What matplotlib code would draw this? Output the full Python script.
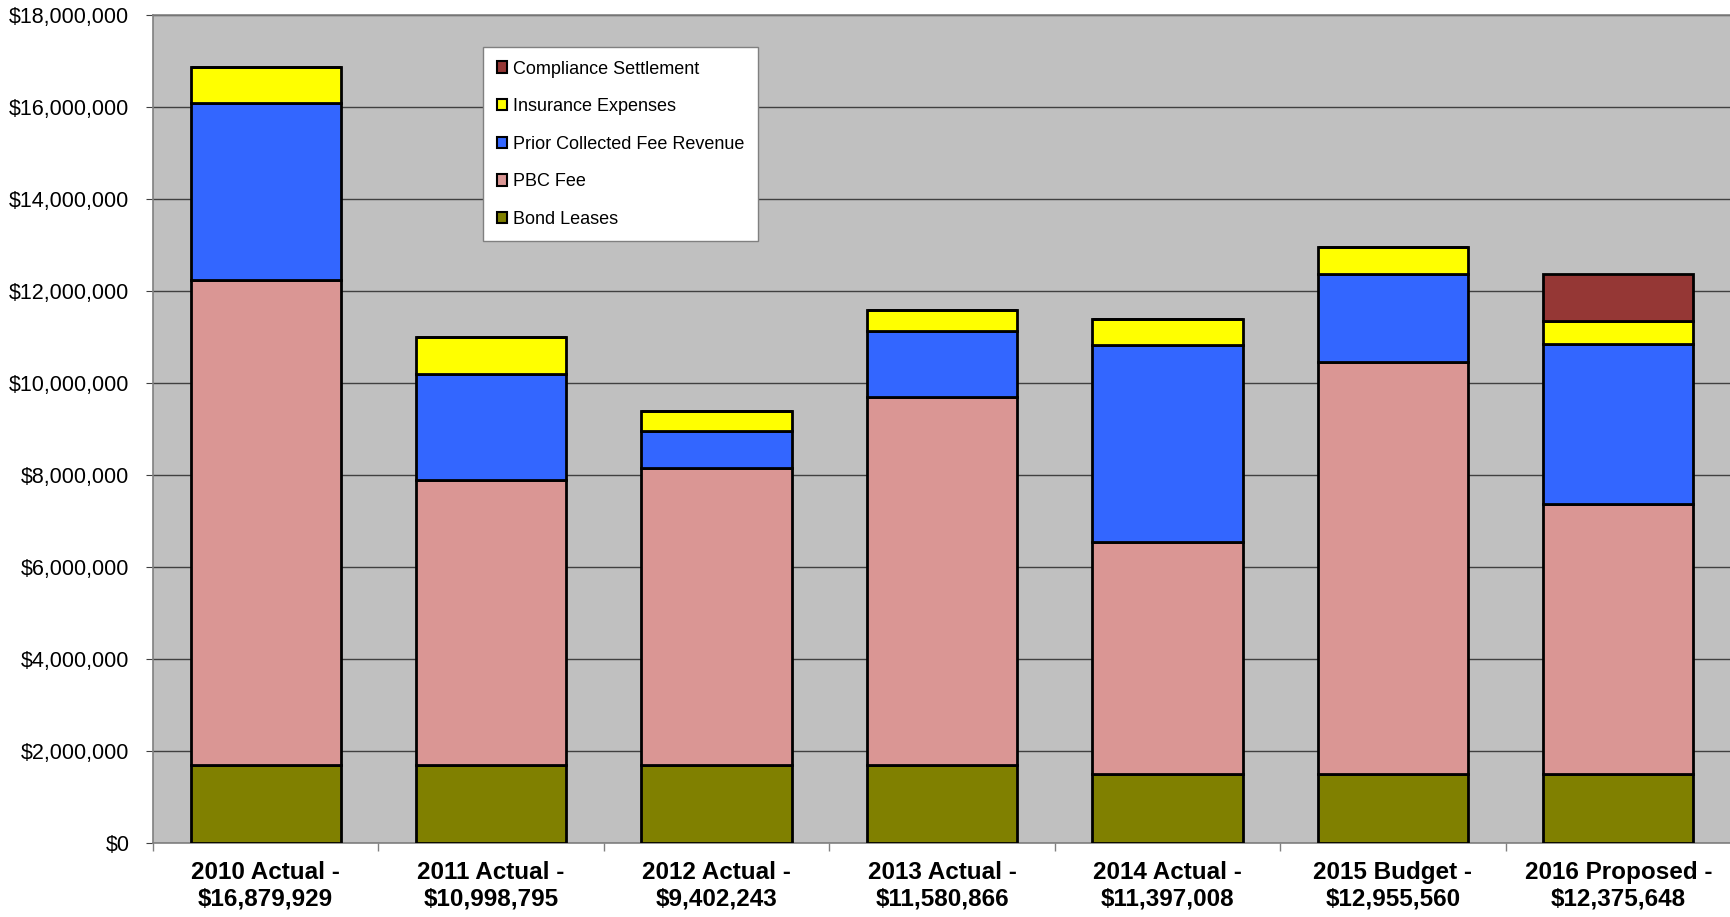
"""Stacked bar chart of fund sources by year"""

import matplotlib.pyplot as plt
from matplotlib.patches import Patch
from matplotlib.ticker import FuncFormatter, FixedLocator
import numpy as np

plt.rcParams['font.family'] = ['Liberation Sans', 'DejaVu Sans']

years = ["2010 Actual -\n$16,879,929", "2011 Actual -\n$10,998,795",
         "2012 Actual -\n$9,402,243", "2013 Actual -\n$11,580,866",
         "2014 Actual -\n$11,397,008", "2015 Budget -\n$12,955,560",
         "2016 Proposed -\n$12,375,648"]

bond_leases = [1700000, 1700000, 1700000, 1700000, 1510000, 1510000, 1490000]
pbc_fee = [10540000, 6200000, 6460000, 8000000, 5040000, 8950000, 5880000]
prior_fee = [3840000, 2300000, 790000, 1440000, 4270000, 1920000, 3480000]
insurance = [800000, 800000, 450000, 440000, 580000, 580000, 500000]
compliance = [0, 0, 0, 0, 0, 0, 1030000]

series = [("Bond Leases", bond_leases, "#808000"),
          ("PBC Fee", pbc_fee, "#DA9694"),
          ("Prior Collected Fee Revenue", prior_fee, "#3366FF"),
          ("Insurance Expenses", insurance, "#FFFF00"),
          ("Compliance Settlement", compliance, "#953735")]

fig = plt.figure(figsize=(17.31, 9.17), dpi=100)
ax = fig.add_axes([153 / 1731, 1 - 843 / 917, 1 - 153 / 1731, (843 - 15) / 917])
ax.set_facecolor("#C0C0C0")

x = np.arange(len(years))
bottom = np.zeros(len(years))
handles = []
for name, vals, col in series:
    vals = np.array(vals, dtype=float)
    ax.bar(x, vals, width=0.667, bottom=bottom, color=col,
           edgecolor="black", linewidth=2.0, zorder=3)
    bottom += vals
    handles.append(Patch(facecolor=col, edgecolor="black", linewidth=1.5, label=name))

ax.set_xlim(-0.5, len(years) - 0.5)
ax.set_ylim(0, 18000000)
ax.set_yticks(np.arange(0, 18000001, 2000000))
ax.yaxis.set_major_formatter(FuncFormatter(lambda v, p: "${:,.0f}".format(v)))
ax.grid(axis="y", color="#404040", linewidth=1.0, zorder=1)

ax.set_xticks(x)
ax.set_xticklabels(years, fontsize=17.5, fontweight="bold", linespacing=1.2)
ax.tick_params(axis="x", which="major", length=0, pad=13)
ax.xaxis.set_minor_locator(FixedLocator(np.arange(-0.5, len(years), 1.0)))
ax.tick_params(axis="x", which="minor", length=6, color="#808080", width=1)
ax.tick_params(axis="y", length=5, color="#404040", labelsize=15.5, pad=12)

for s in ["left", "top", "bottom"]:
    ax.spines[s].set_color("#808080")
    ax.spines[s].set_linewidth(1.2)
ax.spines["right"].set_visible(False)

leg = ax.legend(handles=handles[::-1], loc="upper left",
                bbox_to_anchor=((483 - 153) / 1578, (843 - 47) / 828),
                fontsize=13, frameon=True, fancybox=False, framealpha=1,
                edgecolor="#808080", handlelength=0.6, handleheight=0.6,
                handletextpad=0.3, labelspacing=1.14, borderpad=0.75,
                borderaxespad=0)
leg.get_frame().set_linewidth(1.0)
leg.set_zorder(5)

fig.savefig("out.png", dpi=100)
